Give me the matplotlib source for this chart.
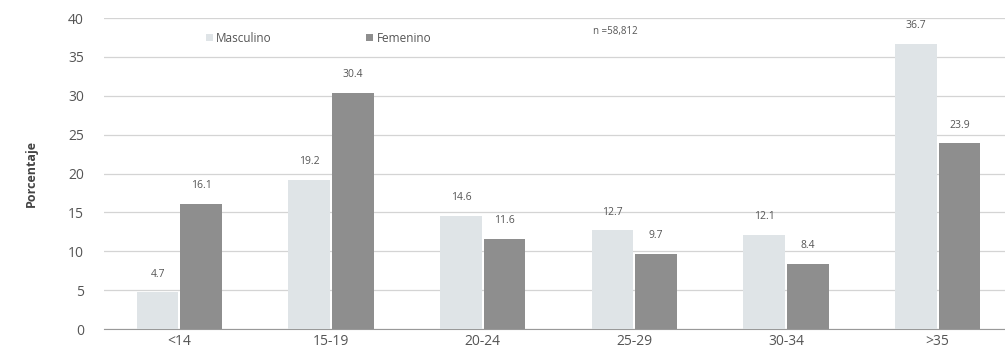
import numpy as np
import matplotlib
matplotlib.use("Agg")
from matplotlib import pyplot as plt

plt.rcParams['font.family'] = ['Open Sans', 'DejaVu Sans']

grupos = ["<14", "15-19", "20-24", "25-29", "30-34", ">35"]
masculino = [4.7, 19.2, 14.6, 12.7, 12.1, 36.7]
femenino = [16.1, 30.4, 11.6, 9.7, 8.4, 23.9]
nota = "n =58,812"

fig = plt.figure(figsize=(10.05, 3.6), dpi=100)
ax = fig.add_axes([0.103, 0.086, 0.91, 0.864])

x = np.arange(len(grupos))
w = 0.275
b1 = ax.bar(x - w / 2 - 0.006, masculino, w, color="#dfe4e7", label="Masculino", zorder=3)
b2 = ax.bar(x + w / 2 + 0.006, femenino, w, color="#8e8e8e", label="Femenino", zorder=3)

#etiquetas de valores
for barras, vals in [(b1, masculino), (b2, femenino)]:
    for b, v in zip(barras, vals):
        ax.annotate(f"{v}", (b.get_x() + b.get_width() / 2, v), xytext=(0, 9),
                    textcoords="offset points", ha="center", va="bottom",
                    fontsize=7.5, color="#555555")

ax.set_ylim(0, 40)
ax.set_xlim(-0.5, 5.53)
ax.set_yticks(range(0, 41, 5))
ax.set_xticks(x)
ax.set_xticklabels(grupos)
ax.tick_params(axis="both", length=0, labelsize=10, colors="#555555")
ax.tick_params(axis="y", pad=14)
ax.grid(axis="y", color="#d4d4d4", linewidth=0.9, zorder=0)
for s in ["top", "right", "left"]:
    ax.spines[s].set_visible(False)
ax.spines["bottom"].set_color("#999999")

ax.set_ylabel("Porcentaje", fontsize=9, fontweight="bold", color="#444444", labelpad=22)

leg = ax.legend(loc="upper left", bbox_to_anchor=(0.1, 0.99), ncol=2, frameon=False,
                fontsize=8.5, handlelength=0.6, handleheight=0.6, columnspacing=8,
                handletextpad=0.3)
for t in leg.get_texts():
    t.set_color("#555555")

ax.text(0.535, 0.955, nota, transform=ax.transAxes, fontsize=7, color="#555555",
        va="center", ha="left")

plt.savefig("out.png", dpi=100)
